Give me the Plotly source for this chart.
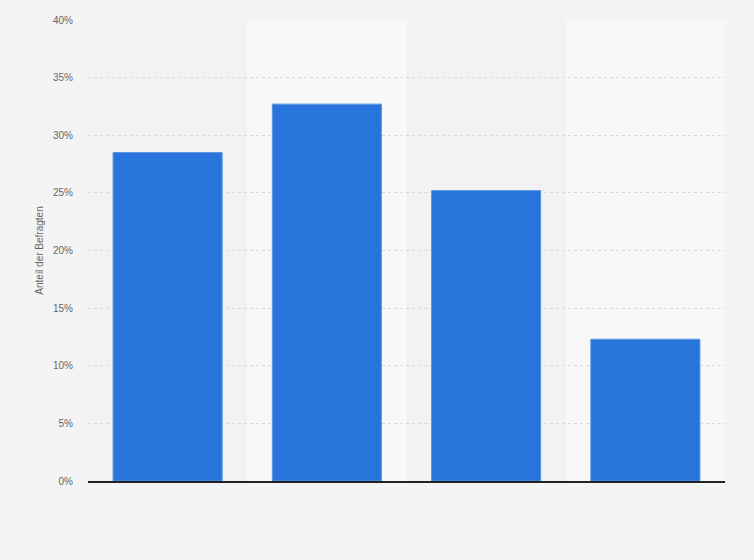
import plotly.graph_objects as go

# ── Data ──────────────────────────────────────────────────────────────
categories = ['Gruppe 1', 'Gruppe 2', 'Gruppe 3', 'Gruppe 4']
shares = [28.5, 32.7, 25.2, 12.3]
y_ticks = [0, 5, 10, 15, 20, 25, 30, 35, 40]
y_tick_labels = [f'{v}%' for v in y_ticks]

# ── Colours ───────────────────────────────────────────────────────────
BAR = '#2775db'
PAPER = '#f4f4f4'
BAND_DARK = '#f2f2f2'
BAND_LIGHT = '#f8f8f8'
GRID = '#d9d9d9'
TICK = '#666666'

fig = go.Figure()

fig.add_trace(go.Bar(
    x=categories,
    y=shares,
    marker=dict(color=BAR, line=dict(color='#5a95e6', width=1)),
    width=0.685,
    hovertemplate='%{x}: %{y:.1f}%<extra></extra>',
))

# alternating column bands behind the bars
shapes = []
for i, _ in enumerate(categories):
    shapes.append(dict(
        type='rect', xref='x', yref='paper',
        x0=i - 0.5, x1=i + 0.5, y0=0, y1=1,
        fillcolor=BAND_DARK if i % 2 == 0 else BAND_LIGHT,
        line_width=0, layer='below',
    ))

fig.update_layout(
    width=754, height=560,
    paper_bgcolor=PAPER,
    plot_bgcolor=PAPER,
    font=dict(family='Arial, Liberation Sans, sans-serif', size=10, color=TICK),
    margin=dict(l=88, r=29, t=20, b=79),
    showlegend=False,
    shapes=shapes,
    bargap=0.315,
    xaxis=dict(
        showticklabels=False,
        showgrid=False,
        showline=True, linecolor='#222222', linewidth=1.5,
        range=[-0.5, len(categories) - 0.5],
        ticks='',
    ),
    yaxis=dict(
        range=[0, 40],
        tickvals=y_ticks,
        ticktext=y_tick_labels,
        showgrid=True, gridcolor=GRID, griddash='dot', gridwidth=1,
        zeroline=False,
        ticks='', ticklabelstandoff=14,
        title=dict(text='Anteil der Befragten', font=dict(size=10, color=TICK), standoff=7),
    ),
)

# drop the default page margin so the figure sits flush in the window
fig.write_html('out.html', config={'displayModeBar': False},
               post_script="document.body.style.margin='0';")
